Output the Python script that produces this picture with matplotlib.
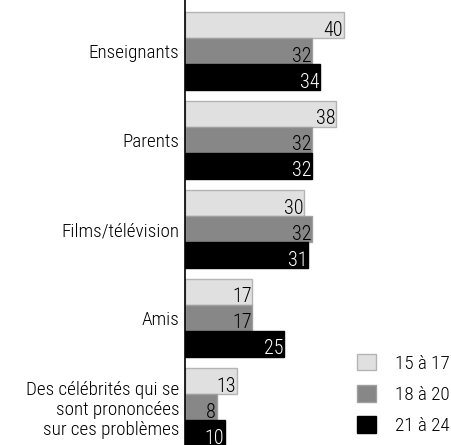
import matplotlib
matplotlib.use("Agg")
import matplotlib.pyplot as plt
from matplotlib.patches import Patch

plt.rcParams['font.family'] = ['Roboto Condensed', 'DejaVu Sans']

categories = ["Enseignants", "Parents", "Films/télévision", "Amis",
              "Des célébrités qui se\nsont prononcées\nsur ces problèmes"]
series_names = ["15 à 17", "18 à 20", "21 à 24"]
v_15_17 = [40, 38, 30, 17, 13]
v_18_20 = [32, 32, 32, 17, 8]
v_21_24 = [34, 32, 31, 25, 10]
series = [v_15_17, v_18_20, v_21_24]
colors = ["#e0e0e0", "#878787", "#000000"]
edges = ["#b4b4b4", "#a0a0a0", "#000000"]
label_colors = ["black", "black", "white"]

fig = plt.figure(figsize=(4.51, 4.45), dpi=100)
ax = fig.add_axes([185/451, 0, 1 - 185/451, 1])

bar_h = 26
pitch = 89
fs = 13.8
fw = "light"
for s, vals in enumerate(series):
    ys = [51 + pitch*i + (s-1)*bar_h for i in range(len(categories))]
    ax.barh(ys, vals, height=bar_h, color=colors[s], edgecolor=edges[s], linewidth=1,
            label=series_names[s])
    for y, v in zip(ys, vals):
        ax.text(v - 0.2, y + 10.5, str(v), ha="right", va="baseline", fontsize=14.5,
                color=label_colors[s], fontweight=fw)

ax.set_ylim(445, 0)
ax.set_xlim(0, (451-185)/3.97)
ax.set_yticks([51 + pitch*i for i in range(len(categories))])
ax.set_yticklabels(categories, fontsize=fs, ha="right", multialignment="right",
                   fontweight=fw, linespacing=1.15)
ax.tick_params(axis="y", length=0, pad=4)
ax.set_xticks([])
for sp in ["top", "right", "bottom"]:
    ax.spines[sp].set_visible(False)
ax.spines["left"].set_linewidth(1.2)

handles = [Patch(facecolor=colors[i], edgecolor=edges[i], label=series_names[i]) for i in range(3)]
ax.legend(handles=handles, loc="lower right", bbox_to_anchor=(1.0, 0.02),
          frameon=False, prop={"size": fs, "weight": fw}, handlelength=1.0, handleheight=0.95,
          labelspacing=0.65, handletextpad=1.0, borderaxespad=0.0, borderpad=0.05)

fig.savefig("out.png", dpi=100)
